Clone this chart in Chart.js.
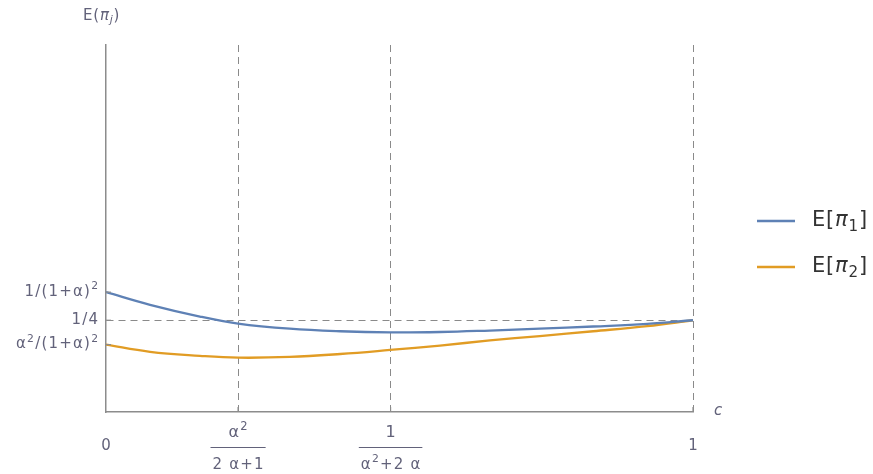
<!DOCTYPE html>
<html><head><meta charset="utf-8">
<script src="https://cdn.jsdelivr.net/npm/chart.js@4"></script>
<style>html,body{margin:0;padding:0;background:#fff;overflow:hidden}</style>
</head><body>
<canvas id="c" width="873" height="474"></canvas>
<script>
// ---- data ----
const cValues   = [0, 0.075, 0.160, 0.225, 0.313, 0.399, 0.484, 0.569, 0.654, 0.739, 0.830, 0.922, 1];
const pi1Values = [0.3265, 0.292, 0.260, 0.241, 0.227, 0.220, 0.217, 0.218, 0.222, 0.227, 0.233, 0.240, 0.25];
const pi2Values = [0.1837, 0.164, 0.153, 0.148, 0.150, 0.158, 0.169, 0.181, 0.195, 0.207, 0.220, 0.234, 0.25];
const seriesNames = ['E[π_1]', 'E[π_2]'];
const xTickValues = [0, 0.225, 0.4848, 1];
// fraction labels: [numerator, denominator]; plain labels: [text]
const xTickLabels = [['0'], ['α^2', '2 α+1'], ['1', 'α^2+2 α'], ['1']];
const yTickValues = [0.1837, 0.25, 0.3265];
const yTickLabels = ['α^2/(1+α)^2', '1/4', '1/(1+α)^2'];
const xAxisTitle = 'c';
const yAxisTitle = 'E(π_j)';

const BLUE = '#5E81B5', ORANGE = '#E19C24';
const TXT = '#62627a', AXIS = '#8c8c8c', DASH = '#8a8a8a';
const FONT = '"DejaVu Sans", sans-serif';

// rich text: '^x' superscript, '_x' subscript (single char)
function parse(s) {
  const out = [];
  for (let i = 0; i < s.length; i++) {
    const ch = s[i];
    if ((ch === '^' || ch === '_') && i + 1 < s.length) { out.push({ t: s[i + 1], k: ch }); i++; }
    else out.push({ t: ch, k: '' });
  }
  return out;
}
function fontFor(p, size) {
  const fs = p.k ? size * 0.72 : size;
  return (p.t === 'π' || p.t === 'j' || p.t === 'c' ? 'italic ' : '') + fs + 'px ' + FONT;
}
function richWidth(ctx, s, size, ls) {
  let w = 0;
  parse(s).forEach(p => { ctx.font = fontFor(p, size); w += ctx.measureText(p.t).width + ls; });
  return w - ls;
}
function drawRich(ctx, s, x, y, size, ls, align) {
  const w = richWidth(ctx, s, size, ls);
  let cx = align === 'right' ? x - w : align === 'center' ? x - w / 2 : x;
  ctx.textAlign = 'left'; ctx.textBaseline = 'middle';
  parse(s).forEach(p => {
    ctx.font = fontFor(p, size);
    const dy = p.k === '^' ? -size * 0.38 : p.k === '_' ? size * 0.3 : 0;
    ctx.fillText(p.t, cx, y + dy);
    cx += ctx.measureText(p.t).width + ls;
  });
  return w;
}

const decor = {
  id: 'decor',
  afterDraw(chart) {
    const ctx = chart.ctx, xs = chart.scales.x, ys = chart.scales.y, a = chart.chartArea;
    ctx.save();
    // inward tick marks
    ctx.strokeStyle = AXIS; ctx.lineWidth = 1.2;
    xTickValues.forEach(v => { if (v === 0) return; const px = xs.getPixelForValue(v);
      ctx.beginPath(); ctx.moveTo(px, a.bottom); ctx.lineTo(px, a.bottom - 5); ctx.stroke(); });
    yTickValues.forEach(v => { const py = ys.getPixelForValue(v);
      ctx.beginPath(); ctx.moveTo(a.left, py); ctx.lineTo(a.left + 5, py); ctx.stroke(); });
    ctx.fillStyle = TXT;
    // y tick labels
    yTickValues.forEach((v, i) => drawRich(ctx, yTickLabels[i], a.left - 8, ys.getPixelForValue(v), 15, 1.2, 'right'));
    // x tick labels
    xTickValues.forEach((v, i) => {
      const px = xs.getPixelForValue(v), lab = xTickLabels[i];
      if (lab.length === 1) { drawRich(ctx, lab[0], px, 446, 15, 1.2, 'center'); return; }
      const w1 = drawRich(ctx, lab[0], px, 433, 16, 1.2, 'center');
      const w2 = drawRich(ctx, lab[1], px, 465, 15, 1.2, 'center');
      const w = Math.max(w1, w2) + 4;
      ctx.strokeStyle = TXT; ctx.lineWidth = 1.1;
      ctx.beginPath(); ctx.moveTo(px - w / 2, 447.5); ctx.lineTo(px + w / 2, 447.5); ctx.stroke();
    });
    // axis titles
    drawRich(ctx, xAxisTitle, a.right + 21, a.bottom - 1, 15, 0, 'left');
    drawRich(ctx, yAxisTitle, 83, 16, 15, 0.8, 'left');
    // legend
    const cols = [BLUE, ORANGE], ys0 = [221, 267];
    seriesNames.forEach((name, i) => {
      ctx.strokeStyle = cols[i]; ctx.lineWidth = 2.5;
      ctx.beginPath(); ctx.moveTo(757, ys0[i]); ctx.lineTo(795, ys0[i]); ctx.stroke();
      ctx.fillStyle = '#333';
      drawRich(ctx, name, 812, ys0[i], 21, 0.8, 'left');
    });
    ctx.restore();
  }
};

new Chart(document.getElementById('c'), {
  type: 'line',
  data: {
    datasets: [
      { label: seriesNames[0], data: cValues.map((c, i) => ({ x: c, y: pi1Values[i] })), borderColor: BLUE, borderWidth: 2.3, pointRadius: 0, tension: 0.4, fill: false },
      { label: seriesNames[1], data: cValues.map((c, i) => ({ x: c, y: pi2Values[i] })), borderColor: ORANGE, borderWidth: 2.3, pointRadius: 0, tension: 0.4, fill: false }
    ]
  },
  options: {
    responsive: false, animation: false, devicePixelRatio: 1,
    layout: { padding: { left: 0, top: 45, right: 180, bottom: 0 } },
    plugins: { legend: { display: false }, tooltip: { enabled: false } },
    scales: {
      x: {
        type: 'linear', min: 0, max: 1,
        afterBuildTicks: s => { s.ticks = xTickValues.map(v => ({ value: v })); },
        afterFit: s => { s.height = 62; },
        ticks: { display: false },
        grid: { drawTicks: false, lineWidth: 1, color: ctx => (ctx.tick && ctx.tick.value > 0) ? DASH : 'rgba(0,0,0,0)' },
        border: { display: true, color: AXIS, width: 1.5, dash: [7, 5] }
      },
      y: {
        type: 'linear', min: 0, max: 1,
        afterBuildTicks: s => { s.ticks = yTickValues.map(v => ({ value: v })); },
        afterFit: s => { s.width = 106; },
        ticks: { display: false },
        grid: { drawTicks: false, lineWidth: 1, color: ctx => (ctx.tick && Math.abs(ctx.tick.value - 0.25) < 1e-6) ? DASH : 'rgba(0,0,0,0)' },
        border: { display: true, color: AXIS, width: 1.5, dash: [7, 5] }
      }
    }
  },
  plugins: [decor]
});
</script>
</body></html>
